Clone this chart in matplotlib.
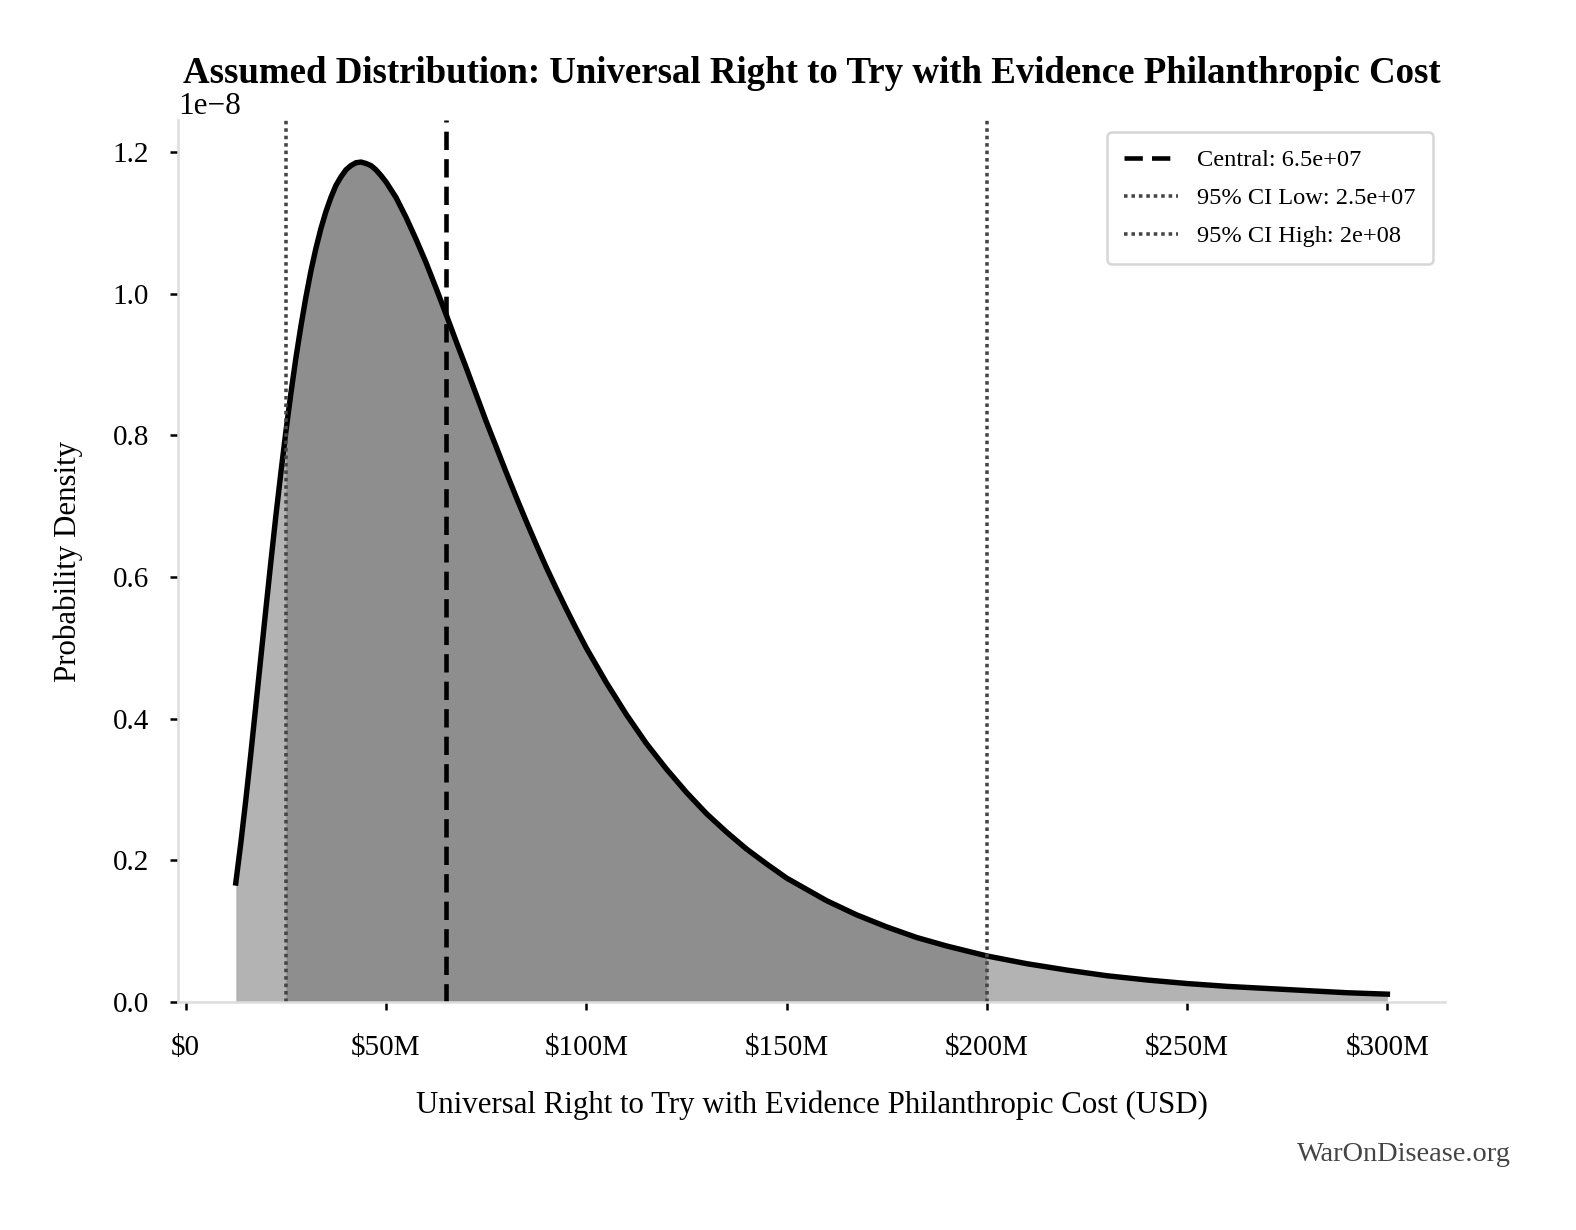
import numpy as np
import matplotlib
matplotlib.use("Agg")
from matplotlib import pyplot as plt
from matplotlib.ticker import FuncFormatter

plt.rcParams['font.family'] = ['Liberation Serif', 'DejaVu Serif']

# cost values (millions USD) and density (x 1e-8)
cost_m = [12.5, 13.75, 15, 16.25, 17.5, 18.75, 20, 21.25, 22.5, 23.75, 25,
          26.25, 27.5, 28.75, 30, 31.25, 32.5, 33.75, 35, 36.25, 37.5, 38.75,
          40, 41.25, 42.5, 43.75, 45, 46.25, 47.5, 48.75, 50, 52.5, 55, 57.5,
          60, 62.5, 65, 67.5, 70, 72.5, 75, 77.5, 80, 82.5, 85, 87.5, 90, 92.5,
          95, 97.5, 100, 105, 110, 115, 120, 125, 130, 135, 140, 145, 150, 160,
          167.5, 175, 182.5, 190, 200, 210, 220, 230, 240, 250, 260, 270, 280,
          290, 300]
density_e8 = [0.168, 0.224, 0.285, 0.350, 0.418, 0.486, 0.554, 0.621, 0.686,
              0.747, 0.805, 0.859, 0.909, 0.954, 0.995, 1.032, 1.064, 1.092,
              1.116, 1.136, 1.153, 1.165, 1.175, 1.181, 1.185, 1.186, 1.184,
              1.181, 1.175, 1.167, 1.158, 1.136, 1.108, 1.077, 1.044, 1.008,
              0.971, 0.933, 0.896, 0.858, 0.820, 0.784, 0.748, 0.713, 0.679,
              0.646, 0.614, 0.584, 0.555, 0.527, 0.500, 0.451, 0.406, 0.365,
              0.329, 0.296, 0.266, 0.240, 0.216, 0.195, 0.175, 0.143, 0.123,
              0.106, 0.091, 0.079, 0.065, 0.054, 0.045, 0.037, 0.031, 0.026,
              0.022, 0.019, 0.016, 0.013, 0.011]

central = 6.5e7
ci_low = 2.5e7
ci_high = 2e8

x = np.array(cost_m) * 1e6
y = np.array(density_e8) * 1e-8

fig, ax = plt.subplots(figsize=(10.513, 8.2), dpi=150)
fig.subplots_adjust(left=0.113, right=0.9163, top=0.9024, bottom=0.1854)

ax.fill_between(x, y, color='#b3b3b3', linewidth=0)
mask = (x >= ci_low) & (x <= ci_high)
ax.fill_between(x[mask], y[mask], color='#8e8e8e', linewidth=0)
ax.plot(x, y, color='black', linewidth=2.6, solid_joinstyle='round')

ax.axvline(central, color='black', linestyle=(0, (4, 2)), linewidth=2.2,
           label=f'Central: {central:.2g}')
ax.axvline(ci_low, color='#444444', linestyle=(0, (1, 1.1)), linewidth=1.7,
           label=f'95% CI Low: {ci_low:.2g}')
ax.axvline(ci_high, color='#444444', linestyle=(0, (1, 1.1)), linewidth=1.7,
           label=f'95% CI High: {ci_high:.2g}')

ax.set_ylim(0, 1.186e-8 * 1.05)
ax.set_xticks([0, 5e7, 1e8, 1.5e8, 2e8, 2.5e8, 3e8])
ax.xaxis.set_major_formatter(FuncFormatter(
    lambda v, p: '$0' if v == 0 else f'${v / 1e6:.0f}M'))
ax.set_yticks(np.arange(0, 1.3e-8, 0.2e-8))
ax.tick_params(labelsize=14, length=4, width=1.2)
ax.tick_params(axis='x', pad=12)
ax.tick_params(axis='y', pad=10)
ax.yaxis.get_offset_text().set_fontsize(15)

for s in ['top', 'right']:
    ax.spines[s].set_visible(False)
for s in ['left', 'bottom']:
    ax.spines[s].set_color('#dddddd')
    ax.spines[s].set_linewidth(1.2)

ax.set_xlabel('Universal Right to Try with Evidence Philanthropic Cost (USD)',
              fontsize=14.8, labelpad=14)
ax.set_ylabel('Probability Density', fontsize=14.8, labelpad=14)
ax.set_title('Assumed Distribution: Universal Right to Try with Evidence Philanthropic Cost',
             fontsize=17.7, fontweight='bold', pad=18)

leg = ax.legend(loc='upper right', fontsize=11.7, frameon=True, handlelength=2.2,
                borderpad=0.7, labelspacing=0.65)
leg.get_frame().set_edgecolor('#cccccc')
leg.get_frame().set_linewidth(1.2)

fig.text(0.958, 0.051, 'WarOnDisease.org', ha='right', va='bottom',
         fontsize=13.6, color='#444444')

fig.savefig('out.png', dpi=150)
